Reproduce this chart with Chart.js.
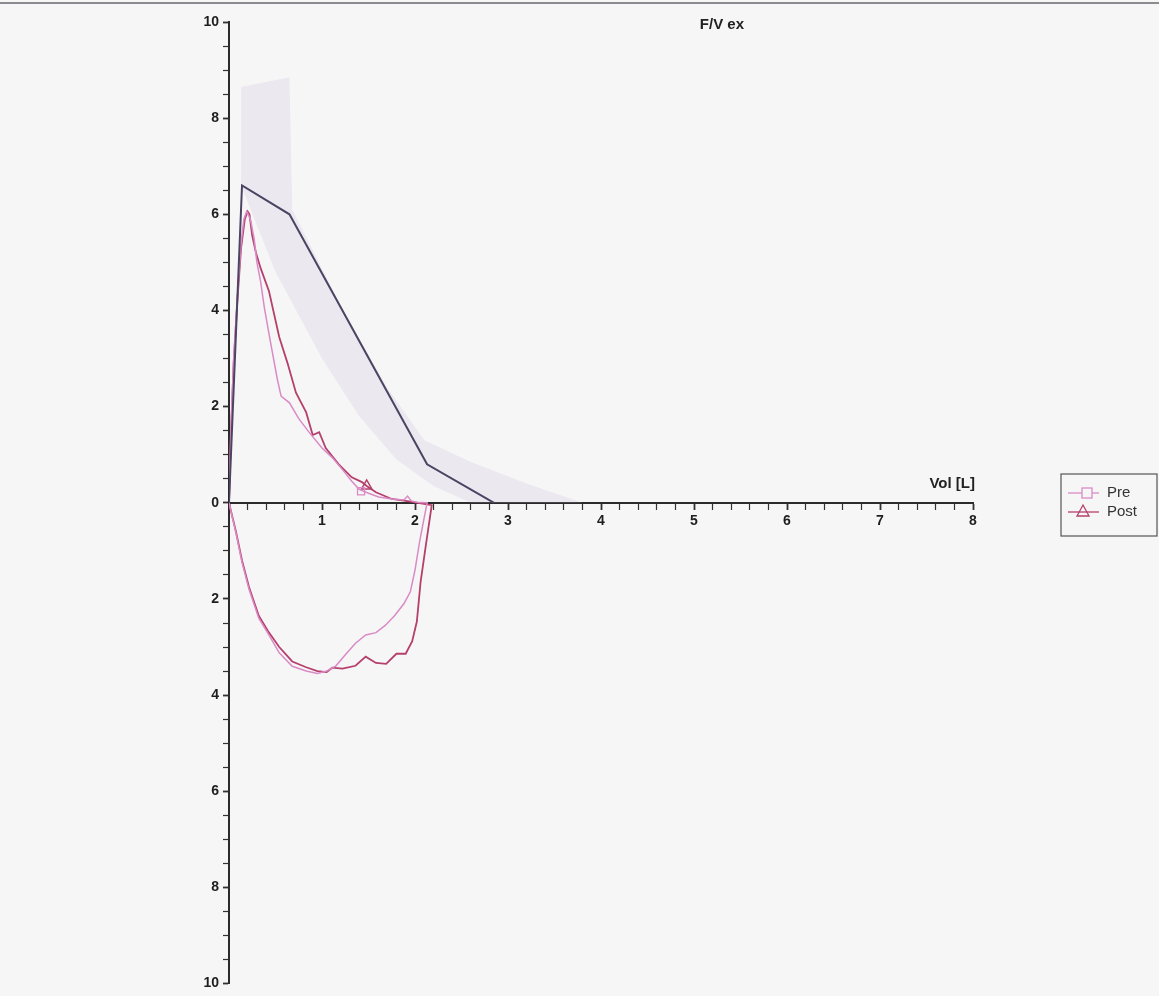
<!DOCTYPE html>
<html>
<head>
<meta charset="utf-8">
<title>F/V ex</title>
<script src="https://cdn.jsdelivr.net/npm/chart.js@4.4.1/dist/chart.umd.min.js"></script>
<style>
    html, body { margin: 0; padding: 0; background: #f7f6f7; }
    canvas { display: block; }
</style>
</head>
<body>
<canvas id="fvChart" width="1159" height="996"></canvas>
<script>
// flow (L/s) against volume (L); inspiration is drawn below the axis
var predVol  = [0, 0.14, 0.65, 2.13, 2.85];
var predFlow = [0, 6.6, 6.0, 0.8, 0];

// faint normal range band
var bandUpperVol  = [0.13, 0.65, 0.68, 1.2, 1.7, 2.1, 2.6, 3.2, 3.8];
var bandUpperFlow = [8.65, 8.85, 6.1, 4.1, 2.4, 1.3, 0.85, 0.4, 0];
var bandLowerVol  = [0.13, 0.5, 1.0, 1.4, 1.8, 2.2, 2.6, 3.8];
var bandLowerFlow = [6.6, 4.8, 3.0, 1.8, 0.9, 0.35, 0, 0];

// Pre
var preExpVol   = [0, 0.02, 0.05, 0.09, 0.13, 0.16, 0.19, 0.23, 0.27, 0.30, 0.34, 0.38, 0.45, 0.52, 0.56, 0.65, 0.75, 0.86, 1.0, 1.11, 1.22, 1.32, 1.4, 1.5, 1.61, 1.75, 1.88, 1.92, 1.96, 2.02];
var preExpFlow  = [0, 1.5, 3.0, 4.3, 5.4, 5.9, 6.06, 5.9, 5.5, 5.0, 4.6, 4.06, 3.3, 2.57, 2.22, 2.08, 1.75, 1.47, 1.14, 0.94, 0.69, 0.45, 0.28, 0.2, 0.12, 0.08, 0.06, 0.14, 0.04, 0.01];
var preInspVol  = [0, 0.075, 0.14, 0.215, 0.32, 0.43, 0.54, 0.68, 0.83, 0.95, 1.05, 1.15, 1.26, 1.36, 1.47, 1.58, 1.68, 1.78, 1.88, 1.95, 2.0, 2.05, 2.1, 2.13];
var preInspFlow = [0, -0.63, -1.24, -1.8, -2.4, -2.75, -3.12, -3.4, -3.5, -3.55, -3.5, -3.39, -3.14, -2.92, -2.75, -2.7, -2.55, -2.35, -2.1, -1.85, -1.4, -0.8, -0.3, 0];

// Post
var postExpVol   = [0, 0.02, 0.05, 0.09, 0.13, 0.17, 0.2, 0.22, 0.25, 0.29, 0.34, 0.43, 0.54, 0.63, 0.72, 0.83, 0.9, 0.97, 1.04, 1.18, 1.32, 1.43, 1.48, 1.58, 1.75, 1.9, 2.0];
var postExpFlow  = [0, 1.4, 2.9, 4.2, 5.3, 5.9, 6.06, 6.0, 5.55, 5.2, 4.88, 4.4, 3.45, 2.9, 2.29, 1.88, 1.41, 1.47, 1.14, 0.8, 0.53, 0.43, 0.35, 0.22, 0.08, 0.04, 0.01];
var postInspVol  = [0, 0.075, 0.14, 0.215, 0.32, 0.43, 0.54, 0.68, 0.83, 0.95, 1.05, 1.11, 1.22, 1.36, 1.47, 1.58, 1.69, 1.8, 1.9, 1.97, 2.02, 2.06, 2.12, 2.18];
var postInspFlow = [0, -0.6, -1.2, -1.75, -2.35, -2.7, -3.0, -3.3, -3.42, -3.5, -3.52, -3.43, -3.45, -3.39, -3.2, -3.33, -3.35, -3.14, -3.14, -2.88, -2.47, -1.65, -0.84, -0.05];

var preMarkVol = [1.42], preMarkFlow = [0.24];
var postMarkVol = [1.48], postMarkFlow = [0.35];

var preColor = '#d98bc6';
var postColor = '#b5406c';
var predColor = '#4b4463';

function zip(vol, flow) {
    return vol.map(function (v, i) {
        return {x: v, y: flow[i]};
    });
}

// expiration out, then inspiration back to the origin
function loop(expVol, expFlow, inspVol, inspFlow) {
    return zip(expVol, expFlow).concat(zip(inspVol, inspFlow).reverse());
}

var paperPlugin = {
    id: 'paper',
    beforeDraw: function (chart) {
        var ctx = chart.ctx;
        ctx.save();
        ctx.fillStyle = '#f7f6f7';
        ctx.fillRect(0, 0, chart.width, chart.height);
        ctx.strokeStyle = '#8d8a90';
        ctx.lineWidth = 2;
        ctx.beginPath();
        ctx.moveTo(0, 3);
        ctx.lineTo(chart.width, 3);
        ctx.stroke();
        ctx.restore();
    },
    afterDraw: function (chart) {
        var ctx = chart.ctx;
        var area = chart.chartArea;
        var xs = chart.scales.x, ys = chart.scales.y;
        ctx.save();
        ctx.fillStyle = '#222';
        ctx.font = 'bold 15px "Liberation Sans", Arial, sans-serif';
        ctx.textBaseline = 'middle';
        ctx.textAlign = 'center';
        ctx.fillText('F/V ex', xs.getPixelForValue(5.3), 25);
        ctx.textAlign = 'right';
        ctx.fillText('Vol [L]', xs.getPixelForValue(8) + 2, ys.getPixelForValue(0) - 19);

        // legend box
        var lx = 1061, ly = 474, lw = 96, lh = 62;
        ctx.strokeStyle = '#555';
        ctx.lineWidth = 1.2;
        ctx.strokeRect(lx, ly, lw, lh);
        ctx.fillStyle = '#333';
        ctx.textAlign = 'left';
        ctx.font = '15px "Liberation Sans", Arial, sans-serif';

        ctx.lineWidth = 1.3;
        ctx.strokeStyle = preColor;
        ctx.beginPath();
        ctx.moveTo(lx + 7, ly + 19);
        ctx.lineTo(lx + 38, ly + 19);
        ctx.stroke();
        ctx.fillStyle = '#f7f6f7';
        ctx.fillRect(lx + 21, ly + 14, 10, 10);
        ctx.strokeRect(lx + 21, ly + 14, 10, 10);
        ctx.fillStyle = '#333';
        ctx.fillText('Pre', lx + 46, ly + 19);

        ctx.strokeStyle = postColor;
        ctx.beginPath();
        ctx.moveTo(lx + 7, ly + 38);
        ctx.lineTo(lx + 38, ly + 38);
        ctx.stroke();
        ctx.beginPath();
        ctx.moveTo(lx + 22, ly + 31);
        ctx.lineTo(lx + 28, ly + 42);
        ctx.lineTo(lx + 16, ly + 42);
        ctx.closePath();
        ctx.stroke();
        ctx.fillText('Post', lx + 46, ly + 38);
        ctx.restore();
    }
};

var tickFont = {family: '"Liberation Sans", Arial, sans-serif', size: 14, weight: 'bold'};

new Chart(document.getElementById('fvChart'), {
    type: 'line',
    data: {
        datasets: [
            {
                label: 'Range',
                data: zip(bandUpperVol, bandUpperFlow),
                fill: '+1',
                backgroundColor: 'rgba(200,190,214,0.24)',
                borderWidth: 0,
                pointRadius: 0
            },
            {
                label: 'Range low',
                data: zip(bandLowerVol, bandLowerFlow),
                fill: false,
                borderWidth: 0,
                pointRadius: 0
            },
            {
                label: 'Pred',
                data: zip(predVol, predFlow),
                borderColor: predColor,
                borderWidth: 2,
                pointRadius: 0,
                fill: false
            },
            {
                label: 'Pre',
                data: loop(preExpVol, preExpFlow, preInspVol, preInspFlow),
                borderColor: preColor,
                borderWidth: 1.5,
                pointRadius: 0,
                fill: false
            },
            {
                label: 'Post',
                data: loop(postExpVol, postExpFlow, postInspVol, postInspFlow),
                borderColor: postColor,
                borderWidth: 1.8,
                pointRadius: 0,
                fill: false
            },
            {
                label: 'Pre mark',
                data: zip(preMarkVol, preMarkFlow),
                showLine: false,
                pointStyle: 'rect',
                pointRadius: 5,
                borderColor: preColor,
                backgroundColor: 'rgba(0,0,0,0)',
                borderWidth: 1.3
            },
            {
                label: 'Post mark',
                data: zip(postMarkVol, postMarkFlow),
                showLine: false,
                pointStyle: 'triangle',
                pointRadius: 6,
                borderColor: postColor,
                backgroundColor: 'rgba(0,0,0,0)',
                borderWidth: 1.5
            }
        ]
    },
    options: {
        responsive: false,
        animation: false,
        layout: {padding: {left: 189, right: 186, top: 22, bottom: 0}},
        elements: {line: {tension: 0}},
        plugins: {
            legend: {display: false},
            tooltip: {enabled: false},
            filler: {drawTime: 'beforeDatasetsDraw'}
        },
        scales: {
            x: {
                type: 'linear',
                min: 0,
                max: 8,
                position: {y: 0},
                ticks: {
                    stepSize: 0.2,
                    autoSkip: false,
                    maxRotation: 0,
                    padding: 4,
                    color: '#1e1e1e',
                    font: tickFont,
                    callback: function (v) {
                        var r = Math.round(v);
                        return (Math.abs(v - r) < 1e-6 && r !== 0) ? String(r) : '';
                    }
                },
                grid: {
                    drawOnChartArea: false,
                    tickLength: 6,
                    tickColor: '#333',
                    tickWidth: function (c) {
                        return Math.abs(c.tick.value - Math.round(c.tick.value)) < 1e-6 ? 1.8 : 1.2;
                    }
                },
                border: {color: '#2b2b2b', width: 2}
            },
            y: {
                type: 'linear',
                min: -10,
                max: 10,
                ticks: {
                    stepSize: 0.5,
                    autoSkip: false,
                    padding: 4,
                    color: '#1e1e1e',
                    font: tickFont,
                    callback: function (v) {
                        var r = Math.round(v);
                        return (Math.abs(v - r) < 1e-6 && r % 2 === 0) ? String(Math.abs(r)) : '';
                    }
                },
                grid: {
                    drawOnChartArea: false,
                    tickLength: 6,
                    tickColor: '#333',
                    tickWidth: function (c) {
                        return Math.abs(c.tick.value % 2) < 1e-6 ? 1.8 : 1.2;
                    }
                },
                border: {color: '#2b2b2b', width: 2},
                afterFit: function (scale) {
                    scale.width = 40;
                }
            }
        }
    },
    plugins: [paperPlugin]
});
</script>
</body>
</html>
